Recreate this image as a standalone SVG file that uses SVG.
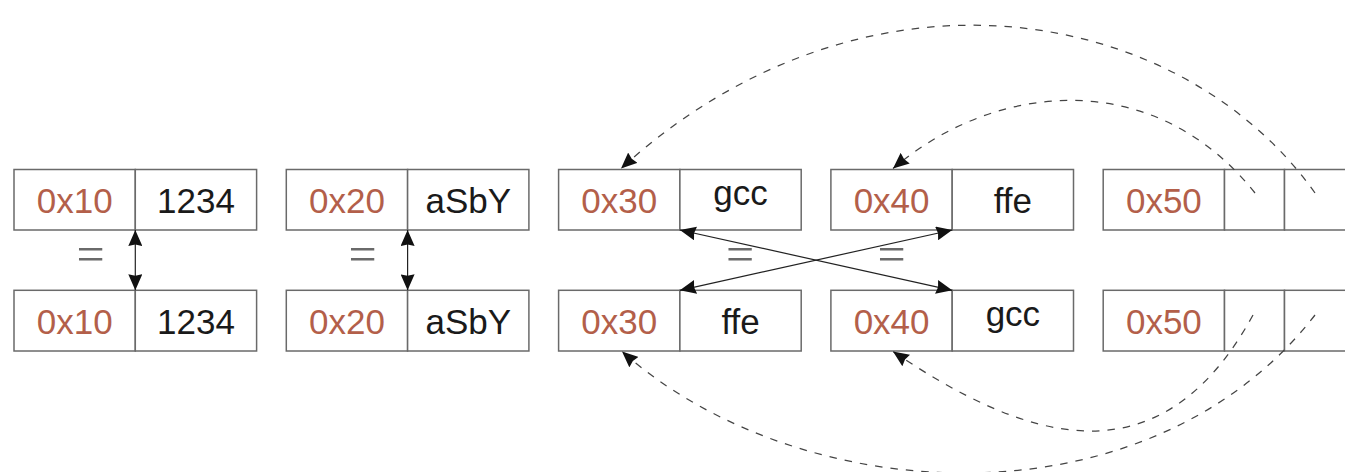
<svg xmlns="http://www.w3.org/2000/svg" width="1345" height="472" viewBox="0 0 1345 472">
<style>
  .cell { fill: #ffffff; stroke: #6a6a6a; stroke-width: 1.5; }
  .addr { font-family: "Liberation Sans", Arial, sans-serif; font-size: 35px; fill: #b35f4a; text-anchor: middle; }
  .val { font-family: "Liberation Sans", Arial, sans-serif; font-size: 35px; fill: #1a1a1a; text-anchor: middle; }
  .eq { font-family: "Liberation Serif", "Times New Roman", serif; font-size: 50px; fill: #6a6a6a; text-anchor: middle; }
  .link { fill: none; stroke: #222222; stroke-width: 1.2; }
  .ptr { fill: none; stroke: #444444; stroke-width: 1.25; stroke-dasharray: 7.5 8; }
</style>
<defs>
  <marker id="head" viewBox="0 0 16 14" refX="16" refY="7" markerWidth="16" markerHeight="14" markerUnits="userSpaceOnUse" orient="auto-start-reverse">
    <path d="M0,0 L16,7 L0,14 L1.5,7 Z" fill="#111111"/>
  </marker>
</defs>

<!-- top row -->
<g id="t10">
  <rect class="cell" x="14" y="169.5" width="121.3" height="60.5"/>
  <rect class="cell" x="135.3" y="169.5" width="121.3" height="60.5"/>
  <text class="addr" x="74.7" y="213.3">0x10</text>
  <text class="val" x="196" y="213.3">1234</text>
</g>
<g id="t20">
  <rect class="cell" x="286.3" y="169.5" width="121.3" height="60.5"/>
  <rect class="cell" x="407.6" y="169.5" width="121.3" height="60.5"/>
  <text class="addr" x="347" y="213.3">0x20</text>
  <text class="val" x="468.3" y="213.3">aSbY</text>
</g>
<g id="t30">
  <rect class="cell" x="558.6" y="169.5" width="121.3" height="60.5"/>
  <rect class="cell" x="679.9" y="169.5" width="121.3" height="60.5"/>
  <text class="addr" x="619.3" y="213.3">0x30</text>
  <text class="val" x="740.6" y="205">gcc</text>
</g>
<g id="t40">
  <rect class="cell" x="830.9" y="169.5" width="121.3" height="60.5"/>
  <rect class="cell" x="952.2" y="169.5" width="121.3" height="60.5"/>
  <text class="addr" x="891.6" y="213.3">0x40</text>
  <text class="val" x="1012.9" y="213.3">ffe</text>
</g>
<g id="t50">
  <rect class="cell" x="1103.2" y="169.5" width="121.3" height="60.5"/>
  <rect class="cell" x="1224.5" y="169.5" width="60" height="60.5"/>
  <rect class="cell" x="1284.5" y="169.5" width="62" height="60.5"/>
  <text class="addr" x="1163.9" y="213.3">0x50</text>
</g>

<!-- bottom row -->
<g id="b10">
  <rect class="cell" x="14" y="290.3" width="121.3" height="60.7"/>
  <rect class="cell" x="135.3" y="290.3" width="121.3" height="60.7"/>
  <text class="addr" x="74.7" y="334.3">0x10</text>
  <text class="val" x="196" y="334.3">1234</text>
</g>
<g id="b20">
  <rect class="cell" x="286.3" y="290.3" width="121.3" height="60.7"/>
  <rect class="cell" x="407.6" y="290.3" width="121.3" height="60.7"/>
  <text class="addr" x="347" y="334.3">0x20</text>
  <text class="val" x="468.3" y="334.3">aSbY</text>
</g>
<g id="b30">
  <rect class="cell" x="558.6" y="290.3" width="121.3" height="60.7"/>
  <rect class="cell" x="679.9" y="290.3" width="121.3" height="60.7"/>
  <text class="addr" x="619.3" y="334.3">0x30</text>
  <text class="val" x="740.6" y="334.3">ffe</text>
</g>
<g id="b40">
  <rect class="cell" x="830.9" y="290.3" width="121.3" height="60.7"/>
  <rect class="cell" x="952.2" y="290.3" width="121.3" height="60.7"/>
  <text class="addr" x="891.6" y="334.3">0x40</text>
  <text class="val" x="1012.9" y="325.8">gcc</text>
</g>
<g id="b50">
  <rect class="cell" x="1103.2" y="290.3" width="121.3" height="60.7"/>
  <rect class="cell" x="1224.5" y="290.3" width="60" height="60.7"/>
  <rect class="cell" x="1284.5" y="290.3" width="62" height="60.7"/>
  <text class="addr" x="1163.9" y="334.3">0x50</text>
</g>

<!-- equality labels -->
<g id="equals">
  <text class="eq" x="90.5" y="270.5">=</text>
  <text class="eq" x="362.5" y="270.5">=</text>
  <text class="eq" x="740" y="270.5">=</text>
  <text class="eq" x="891.5" y="270.5">=</text>
</g>

<!-- connectors -->
<g id="connectors">
  <line class="link" x1="135.3" y1="230" x2="135.3" y2="290.3" marker-start="url(#head)" marker-end="url(#head)"/>
  <line class="link" x1="407.6" y1="230" x2="407.6" y2="290.3" marker-start="url(#head)" marker-end="url(#head)"/>
  <line class="link" x1="679.9" y1="230" x2="952.2" y2="290.3" marker-start="url(#head)" marker-end="url(#head)"/>
  <line class="link" x1="952.2" y1="230" x2="679.9" y2="290.3" marker-start="url(#head)" marker-end="url(#head)"/>

  <path class="ptr" d="M1315,193 C1182,5 866,-54 621,168.5" marker-end="url(#head)"/>
  <path class="ptr" d="M1255,193 C1154.5,66.6 996,80.8 893,168.5" marker-end="url(#head)"/>
  <path class="ptr" d="M1315,315 C1150,528 802,511 622,351.5" marker-end="url(#head)"/>
  <path class="ptr" d="M1253,315 C1158,489 1021,438 893,351.5" marker-end="url(#head)"/>
</g>
</svg>
